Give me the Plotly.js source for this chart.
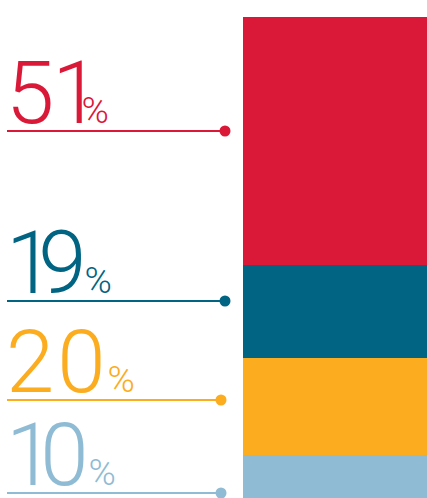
<!DOCTYPE html>
<html><head><meta charset="utf-8">
<script src="https://cdn.plot.ly/plotly-3.0.1.min.js"></script>
<style>html,body{margin:0;padding:0;background:#fff;}</style>
</head><body>
<div id="chart" style="width:427px;height:498px;"></div>
<script>
// Data (stacked bottom to top)
const categories = ['Total'];
const segmentNames = ['10%', '20%', '19%', '51%'];
const segmentValues = [10, 20, 19, 51];
const segmentColors = ['#8FBCD4', '#FBAC1F', '#006482', '#DA1838'];

// Labels on the left, top to bottom
const labelNumbers = ['51', '19', '20', '10'];
const labelColors = ['#DA1838', '#006482', '#FBAC1F', '#8FBCD4'];

// layout positions (pixels) for the label rules
const lineY = [131, 301, 400, 493];
const lineEndX = [225, 225, 221, 221];
const lineStartX = 7;
// per-glyph spacing tweaks (px) after first digit and after second digit
const spacingA = [-2, -16, 3, -14];
const spacingB = [-19, -2, 2, 0];

const W = 427, H = 498;
const traces = [];
segmentValues.forEach((v, i) => {
  traces.push({
    type: 'bar', x: categories, y: [v], name: segmentNames[i],
    marker: {color: segmentColors[i], line: {width: 0}},
    xaxis: 'x', yaxis: 'y', hoverinfo: 'none', showlegend: false
  });
});
labelNumbers.forEach((n, i) => {
  traces.push({
    type: 'scatter', mode: 'lines',
    x: [lineStartX, lineEndX[i]], y: [lineY[i], lineY[i]],
    line: {color: labelColors[i], width: 2},
    xaxis: 'x2', yaxis: 'y2', hoverinfo: 'none', showlegend: false, cliponaxis: false
  });
  traces.push({
    type: 'scatter', mode: 'markers',
    x: [lineEndX[i]], y: [lineY[i]],
    marker: {color: labelColors[i], size: 11, opacity: 1, line: {width: 0}},
    xaxis: 'x2', yaxis: 'y2', hoverinfo: 'none', showlegend: false, cliponaxis: false
  });
});

const annotations = labelNumbers.map((n, i) => ({
  xref: 'paper', yref: 'paper', x: 4 / W, y: 1 - (lineY[i] + 15) / H,
  xanchor: 'left', yanchor: 'bottom', showarrow: false,
  text: '<span style="letter-spacing:' + spacingA[i] + 'px">' + n[0] + '</span>' +
        '<span style="letter-spacing:' + spacingB[i] + 'px">' + n[1] + '</span>' +
        '<span style="font-size:37px">%</span>',
  font: {family: 'Roboto', size: 87, color: labelColors[i], weight: 300}
}));

const layout = {
  width: W, height: H,
  margin: {l: 0, r: 0, t: 0, b: 0},
  paper_bgcolor: '#ffffff', plot_bgcolor: 'rgba(0,0,0,0)',
  barmode: 'stack', bargap: 0,
  xaxis: {domain: [243 / W, 1], visible: false, fixedrange: true},
  yaxis: {range: [1.2, 103.5], visible: false, fixedrange: true},
  xaxis2: {domain: [0, 1], range: [0, W], visible: false, anchor: 'y2'},
  yaxis2: {domain: [0, 1], range: [H, 0], visible: false, anchor: 'x2'},
  annotations: annotations
};

Plotly.newPlot('chart', traces, layout, {displayModeBar: false, staticPlot: true});
</script>
</body></html>
